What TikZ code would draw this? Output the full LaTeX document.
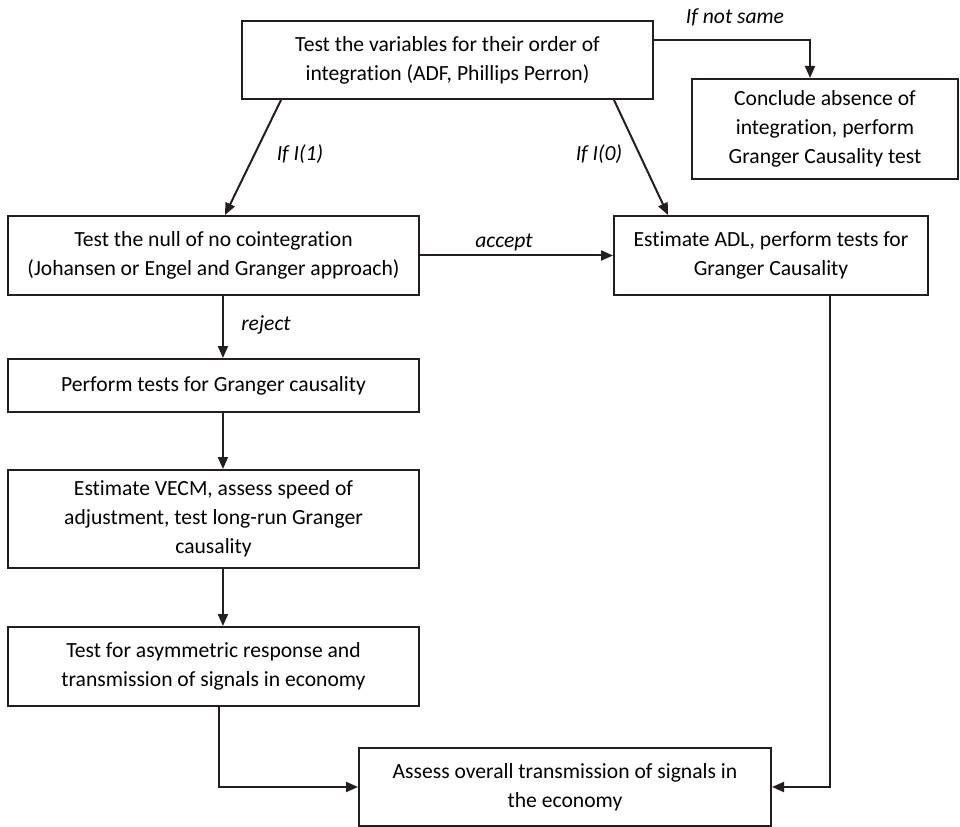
\documentclass[tikz,border=0pt]{standalone}
\usepackage{fontspec}
\setmainfont{Carlito}[Ligatures=NoCommon]
\usetikzlibrary{arrows.meta}
\definecolor{ink}{HTML}{231F20}
\begin{document}
\begin{tikzpicture}[x=0.75pt,y=-0.75pt,
  box/.style={draw=ink,line width=1.5pt,rectangle,inner sep=0pt,align=center,
    font=\fontsize{16.2pt}{21.75pt}\selectfont,text=black},
  arr/.style={draw=ink,line width=1.5pt,-{Triangle[length=9pt,width=7.5pt]}},
  lbl/.style={font=\fontsize{16.2pt}{19pt}\selectfont\itshape,text=black,inner sep=0pt}]
\useasboundingbox (0,0) rectangle (960,827);
\node[box,minimum width=411*0.75pt,minimum height=78*0.75pt] (top) at (447.5,60)
  {Test the variables for their order of\\integration (ADF, Phillips Perron)};
\node[box,minimum width=266*0.75pt,minimum height=100*0.75pt] (conc) at (825,129)
  {Conclude absence of\\integration, perform\\Granger Causality test};
\node[box,minimum width=411*0.75pt,minimum height=79*0.75pt] (coint) at (213.5,255.5)
  {Test the null of no cointegration\\(Johansen or Engel and Granger approach)};
\node[box,minimum width=314*0.75pt,minimum height=79*0.75pt] (adl) at (771,255.5)
  {Estimate ADL, perform tests for\\Granger Causality};
\node[box,minimum width=411*0.75pt,minimum height=53*0.75pt] (perf) at (213.5,385.5)
  {Perform tests for Granger causality};
\node[box,minimum width=411*0.75pt,minimum height=98*0.75pt] (vecm) at (213.5,519)
  {Estimate VECM, assess speed of\\adjustment, test long-run Granger\\causality};
\node[box,minimum width=411*0.75pt,minimum height=79*0.75pt] (asym) at (213.5,666.5)
  {Test for asymmetric response and\\transmission of signals in economy};
\node[box,minimum width=412*0.75pt,minimum height=78*0.75pt] (final) at (565,787)
  {Assess overall transmission of signals in\\the economy};
% connectors
\draw[arr] ([yshift=-15pt]top.north east) -| ([xshift=-11.25pt]conc.north);
\draw[arr] ([xshift=30pt]top.south west) -- ([xshift=8.6pt]coint.north);
\draw[arr] ([xshift=-30pt]top.south east) -- ([xshift=41.25pt]adl.north west);
\draw[arr] (coint.east) -- (adl.west);
\draw[arr] ([xshift=7.1pt]coint.south) -- ([xshift=7.1pt]perf.north);
\draw[arr] ([xshift=7.1pt]perf.south) -- ([xshift=7.1pt]vecm.north);
\draw[arr] ([xshift=7.1pt]vecm.south) -- ([xshift=7.1pt]asym.north);
\draw[arr] ([xshift=4.1pt]asym.south) |- (final.west);
\draw[arr] ([xshift=44.25pt]adl.south) |- (final.east);
% labels
\node[lbl] (lns) at (735,17) {If not same};
\node[lbl] (li1) at (300,154) {If I(1)};
\node[lbl] (li0) at (599,154) {If I(0)};
\node[lbl] (lacc) at (504,242) {accept};
\node[lbl] (lrej) at (266,325) {reject};
\end{tikzpicture}
\end{document}
